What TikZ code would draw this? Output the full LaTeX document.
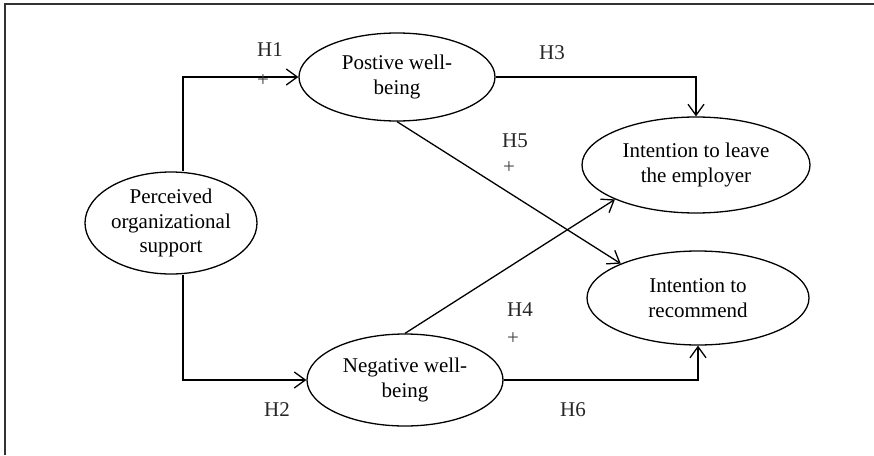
\documentclass[tikz,border=0pt]{standalone}
\usepackage{fontspec}
\setmainfont{Liberation Serif}
\usetikzlibrary{positioning,shapes,arrows.meta}
\tikzset{
latent/.style={ellipse, draw, line width=1.3pt, inner sep=0pt, align=center},
link/.style={line width=1.3pt, -{Straight Barb[length=11pt,width=16pt,line width=1.3pt]}},
hyp/.style={text=black!85, inner sep=0pt},
sign/.style={text=black!75, inner sep=0pt}
}
\begin{document}
\begin{tikzpicture}[x=1pt, y=-1pt, font=\fontsize{21}{24.5}\selectfont]
  \useasboundingbox (0,0) rectangle (874,455);
  \draw[line width=1.5pt, black!80] (874,4) -- (5,4) -- (5,455);
  % constructs
  \node[latent, minimum width=172pt, minimum height=102pt] (pos_org) at (171,223) {Perceived\\organizational\\support};
  \node[latent, minimum width=196pt, minimum height=88pt] (pwb) at (397,77) {Postive well-\\being};
  \node[latent, minimum width=196pt, minimum height=92pt] (nwb) at (405,380) {Negative well-\\being};
  \node[latent, minimum width=228pt, minimum height=96pt] (leave) at (696,165) {Intention to leave\\the employer};
  \node[latent, minimum width=222pt, minimum height=94pt] (recom) at (698,298) {Intention to\\recommend};
  % paths
  \draw[link] ([xshift=12pt]pos_org.north) |- (pwb.west);
  \draw[link] ([xshift=12pt]pos_org.south) |- (nwb.west);
  \draw[link] (pwb.east) -| (leave.north);
  \draw[link] (nwb.east) -| (recom.south);
  \draw[link] (pwb.south) -- (recom.156);
  \draw[link] (nwb.north) -- (leave.203);
  % labels
  \node[hyp] (h1) at (270,50) {H1};
  \node[hyp] (h2) at (277,410) {H2};
  \node[hyp] (h3) at (552,53) {H3};
  \node[hyp] (h4) at (520,310) {H4};
  \node[hyp] (h5) at (515,141) {H5};
  \node[hyp] (h6) at (573,410) {H6};
  \node[sign] (p1) at (263,81) {+};
  \node[sign] (p5) at (509,168) {+};
  \node[sign] (p4) at (513,339) {+};
\end{tikzpicture}
\end{document}
